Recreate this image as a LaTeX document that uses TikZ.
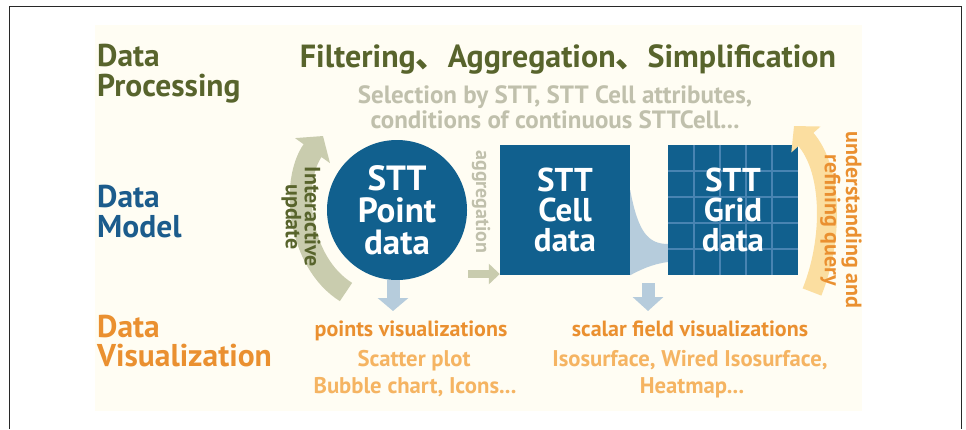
\documentclass[tikz,border=0pt]{standalone}
\usepackage{fontspec}
\setmainfont{PT Sans}
\newfontfamily\cjk{Noto Sans CJK SC}
\usetikzlibrary{arrows.meta,calc}

\definecolor{olivetxt}{RGB}{88,100,44}
\definecolor{beigetxt}{RGB}{192,192,172}
\definecolor{bluebox}{RGB}{17,96,142}
\definecolor{bluetxt}{RGB}{28,92,140}
\definecolor{orangehd}{RGB}{234,144,48}
\definecolor{orangelt}{RGB}{245,180,98}
\definecolor{yellowarr}{RGB}{251,222,160}
\definecolor{greenarr}{RGB}{201,204,174}
\definecolor{bluearr}{RGB}{182,204,220}
\definecolor{gridline}{RGB}{72,132,178}
\definecolor{cream}{RGB}{255,253,243}
\definecolor{frame}{RGB}{40,40,40}

\begin{document}
\begin{tikzpicture}[x=1pt,y=-1pt,
  every node/.style={inner sep=0pt, font=\bfseries},
  heading/.style={anchor=base west, font=\fontsize{31.5}{30}\selectfont\bfseries},
  subline/.style={anchor=base, font=\fontsize{25}{25}\selectfont\bfseries, text=beigetxt},
  vishead/.style={anchor=base, font=\fontsize{22}{22}\selectfont\bfseries, text=orangehd},
  visitem/.style={anchor=base, font=\fontsize{22.7}{22}\selectfont\bfseries, text=orangelt},
  datashape/.style={fill=bluebox, text=white, align=center},
  sidelabel/.style={rotate=-90, align=center, font=\fontsize{22}{19}\selectfont\bfseries},
  band/.style={line width=#1},
]
\useasboundingbox (0,0) rectangle (966,429);

% page frame, open at the bottom
\draw[frame, line width=1.4] (9.5,429) -- (9.5,6.5) -- (961.5,6.5) -- (961.5,429);
% cream panel
\fill[cream] (95,25) rectangle (862,411);

% row headings
\node[heading, text=olivetxt] (dp1) at (97,66) {Data};
\node[heading, text=olivetxt] (dp2) at (97,96) {Processing};
\node[heading, text=bluetxt] (dm1) at (97,207) {Data};
\node[heading, text=bluetxt] (dm2) at (97,237) {Model};
\node[heading, text=orangehd] (dv1) at (97,337) {Data};
\node[heading, text=orangehd] (dv2) at (97,366) {Visualization};

% processing operations
\node[anchor=base, text=olivetxt, font=\fontsize{32}{30}\selectfont\bfseries] (ops) at (568,67)
  {Filtering{\cjk 、}Aggregation{\cjk 、}Simplification};
\node[subline] (sel1) at (555,103) {Selection by STT, STT Cell attributes,};
\node[subline] (sel2) at (555,128) {conditions of continuous STTCell...};

% data model shapes
\node[datashape, circle, minimum size=140, font=\fontsize{35}{32}\selectfont\bfseries] (point) at (397,210)
  {STT\\Point\\data};
\node[datashape, minimum width=130, minimum height=130, font=\fontsize{33}{30}\selectfont\bfseries] (cell) at (565,210)
  {STT\\Cell\\data};

% cell-to-grid swoosh
\fill[bluearr] ($(cell.east)+(0,-20)$) .. controls (638,232) and (648,244) .. (668,244)
  -- (668,262) .. controls (652,264) and (640,270) .. (cell.south east) -- cycle;

\node[fill=bluebox, minimum width=130, minimum height=130] (grid) at (733,210) {};
\foreach \k in {1,...,4} {
  \draw[gridline, line width=1.4] ($(grid.north west)+(26*\k,0)$) -- ($(grid.south west)+(26*\k,0)$);
  \draw[gridline, line width=1.4] ($(grid.north west)+(0,26*\k)$) -- ($(grid.north east)+(0,26*\k)$);
}
\node[text=white, align=center, font=\fontsize{33}{30}\selectfont\bfseries] (gridtxt) at (grid.center)
  {STT\\Grid\\data};

% interactive update band
\coordinate (iu0) at (346,292);
\coordinate (iu1) at (323,136);
\draw[greenarr, band=22, -{Triangle[length=18,width=42]}]
  (iu0) .. controls (298,262) and (290,182) .. (iu1);
\node[sidelabel, text=olivetxt] (iulbl) at (301,217) {Interactive\\update};

% aggregation arrow
\coordinate (agg0) at (468,274);
\draw[greenarr, band=8, -{Triangle[length=11,width=20]}] (agg0) -- (agg0 -| cell.west);
\node[sidelabel, text=beigetxt, font=\fontsize{20}{19}\selectfont\bfseries] (agglbl) at (481,202) {aggregation};

% understanding and refining query band
\coordinate (uq0) at (812,292);
\coordinate (uq1) at (794,126);
\draw[yellowarr, band=20, -{Triangle[length=18,width=38]}]
  (uq0) .. controls (833,240) and (833,170) .. (uq1);
\node[sidelabel, text=orangehd] (uqlbl) at (841,220) {understanding and\\refining query};

% downward arrows to visualizations
\coordinate (pv) at (393,311);
\draw[bluearr, band=13, -{Triangle[length=13,width=30]}] (point.south -| pv) -- (pv);
\coordinate (gv) at (648,311);
\draw[bluearr, band=13, -{Triangle[length=14,width=30]}] (648,283) -- (gv);

% visualization texts
\node[vishead] (pvh) at (411,336) {points visualizations};
\node[visitem] (pv1) at (414,366) {Scatter plot};
\node[visitem] (pv2) at (415,393) {Bubble chart, Icons...};
\node[vishead] (svh) at (690,336) {scalar field visualizations};
\node[visitem] (sv1) at (690,366) {Isosurface, Wired Isosurface,};
\node[visitem] (sv2) at (692,393) {Heatmap...};
\end{tikzpicture}
\end{document}
